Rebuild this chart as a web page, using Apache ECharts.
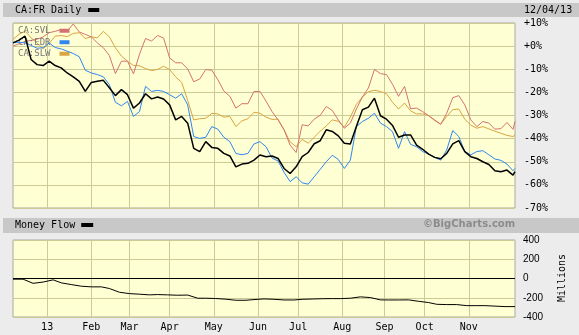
<!DOCTYPE html>
<html><head><meta charset="utf-8">
<script src="https://cdn.jsdelivr.net/npm/echarts@6/dist/echarts.min.js"></script>
<style>html,body{margin:0;padding:0;background:#ececec;}#c{width:579px;height:335px;}</style>
</head><body><div id="c"></div>
<script>
// ---- axis definition ----
const firstDay = '2012-12-05';
const lastDay = '2013-12-04';
const holidays = ['2012-12-25','2012-12-26','2013-01-01','2013-02-18','2013-03-29','2013-05-20','2013-07-01','2013-08-05','2013-09-02','2013-10-14'];
const tickMonths = ['2013-01','2013-02','2013-03','2013-04','2013-05','2013-06','2013-07','2013-08','2013-09','2013-10','2013-11'];
const tickLabels = ['13','Feb','Mar','Apr','May','Jun','Jul','Aug','Sep','Oct','Nov'];

// ---- price-panel samples (% change) ----
const dates = ['2012-12-05','2012-12-10','2012-12-13','2012-12-18','2012-12-21','2012-12-28','2013-01-03','2013-01-08','2013-01-11','2013-01-16',
 '2013-01-21','2013-01-24','2013-01-29','2013-02-01','2013-02-06','2013-02-11','2013-02-14','2013-02-20','2013-02-25','2013-02-28',
 '2013-03-05','2013-03-08','2013-03-13','2013-03-18','2013-03-21','2013-03-26','2013-04-01','2013-04-04','2013-04-09','2013-04-12',
 '2013-04-17','2013-04-22','2013-04-25','2013-04-30','2013-05-03','2013-05-08','2013-05-13','2013-05-16','2013-05-22','2013-05-27',
 '2013-05-30','2013-06-04','2013-06-07','2013-06-12','2013-06-17','2013-06-20','2013-06-25','2013-06-28','2013-07-04','2013-07-09',
 '2013-07-12','2013-07-17','2013-07-22','2013-07-25','2013-07-30','2013-08-02','2013-08-08','2013-08-13','2013-08-16','2013-08-21',
 '2013-08-26','2013-08-29','2013-09-04','2013-09-09','2013-09-12','2013-09-17','2013-09-20','2013-09-25','2013-09-30','2013-10-03',
 '2013-10-08','2013-10-11','2013-10-17','2013-10-22','2013-10-25','2013-10-30','2013-11-04','2013-11-07','2013-11-12','2013-11-15',
 '2013-11-20','2013-11-25','2013-11-28','2013-12-03','2013-12-04'];
const fr = [1.4,2.6,4.3,-5.8,-8,-8.4,-6.5,-8.4,-9.4,-11.6,
 -13.3,-15.2,-19.6,-15.7,-15.2,-14.8,-18,-21.4,-18.8,-21,
 -26.8,-24.6,-20.6,-22.8,-22,-22.9,-25.4,-31.9,-30.4,-33.3,
 -44.2,-45.6,-41.3,-43.8,-44.2,-46.4,-47.5,-52.2,-51,-50.7,
 -49.3,-47.1,-47.8,-47.5,-48.6,-52.9,-55.1,-52.2,-47.8,-46,
 -42.2,-40.9,-36.2,-36.9,-38.8,-42,-42.3,-34.8,-27.5,-26.4,
 -22.5,-30.1,-31.6,-34.3,-39.4,-38.4,-38.4,-42.8,-44.6,-46.7,
 -48.1,-48.7,-46.4,-42.3,-40.9,-45.6,-47.8,-48.6,-50,-51.2,
 -53.9,-54.3,-53.6,-55.8,-54.3];
const edr = [1.4,1.7,1.4,0.3,-0.9,-0.7,1.4,-0.6,-1.2,-2.2,
 -3.2,-4.6,-10.4,-11.6,-12.3,-13.3,-16.7,-24.3,-25.8,-23.9,
 -30.4,-28.3,-17.4,-19.6,-19.1,-19.6,-21,-22.5,-20.6,-25.4,
 -39.1,-39.9,-39.4,-34.8,-35.9,-39.4,-41.3,-46.4,-47,-46.4,
 -42.3,-41.3,-43.5,-48.4,-49.7,-54.6,-58.6,-56.5,-59.1,-59.7,
 -56.5,-53.3,-50,-47.2,-49,-52.9,-49.3,-34.8,-32.6,-31.2,
 -29,-33.3,-34.8,-37,-44.2,-37,-42.5,-43.5,-45.6,-46.7,
 -48.1,-49.3,-44.9,-36.5,-39.1,-45.6,-47,-45.6,-45.2,-47,
 -48.8,-49.4,-51,-53.9,-52.9];
const svl = [0,1,2,2.5,3,4,5.8,6.4,7.2,6.5,
 9.6,6.1,5.1,4,1.4,-0.7,-4.1,-11.9,-6.5,-6.5,
 -12,-3.5,3.3,2.2,4.6,3.5,-5.1,-7.2,-7.2,-9.9,
 -15.4,-14.2,-10.1,-10.4,-14.5,-19.4,-21.7,-26.8,-24.9,-24.9,
 -19.6,-19.6,-23.8,-28.3,-31.9,-36.2,-42.8,-46,-34,-34.5,
 -31.6,-29.9,-26.1,-27.8,-31.9,-35.5,-33.3,-27.2,-22,-18.1,
 -10.1,-11.9,-12.3,-16.5,-21.7,-17.4,-27.1,-26.8,-28.3,-30.1,
 -31.9,-33.8,-29,-22.3,-21.4,-25.4,-31.9,-34.8,-32.6,-33.3,
 -35.9,-35.7,-33,-36,-32.6];
const slw = [2.9,5.1,6.5,3.6,1.4,-1.2,1.2,4.3,4.6,4.1,
 5.5,5.8,3.3,4,3.6,6.4,4,-0.7,-4.3,-6.5,
 -8.4,-8.5,-9.7,-10.6,-10.1,-8.7,-10.1,-13.3,-15.7,-23.5,
 -31.9,-31.4,-31.2,-29.1,-29.3,-30.7,-30.4,-34.8,-32.3,-31.4,
 -28.6,-29,-30.7,-31.7,-31.6,-36.2,-41.4,-43.5,-40.3,-42,
 -39.4,-36.8,-34.5,-31.9,-32.5,-35,-30.7,-25.2,-22,-19.7,
 -19.1,-19.6,-20.6,-24.3,-27.2,-24.6,-28,-29.3,-29.3,-30.1,
 -32.2,-33.8,-30.4,-27.5,-27.2,-31.6,-34.2,-35.5,-34.8,-35.8,
 -36.8,-37.7,-38.6,-39.1,-38.4];

// ---- money-flow samples (millions) ----
const mfDates = ['2012-12-05','2012-12-12','2012-12-19','2012-12-28','2013-01-07','2013-01-11','2013-01-18','2013-01-25',
 '2013-02-01','2013-02-08','2013-02-14','2013-02-22','2013-03-01','2013-03-08','2013-03-15','2013-03-21','2013-03-28',
 '2013-04-05','2013-04-12','2013-04-19','2013-04-25','2013-05-02','2013-05-09','2013-05-16','2013-05-24','2013-05-30',
 '2013-06-06','2013-06-13','2013-06-20','2013-06-27','2013-07-04','2013-07-11','2013-07-18','2013-07-25','2013-07-31',
 '2013-08-08','2013-08-15','2013-08-22','2013-08-29','2013-09-05','2013-09-12','2013-09-19','2013-09-26','2013-10-03',
 '2013-10-09','2013-10-17','2013-10-24','2013-10-31','2013-11-07','2013-11-13','2013-11-20','2013-11-27','2013-12-02','2013-12-04'];
const moneyFlow = [-7,-7,-50,-37,-14,-45,-63,-80,-87,-87,-104,-143,-157,-163,-170,-167,-170,-174,-172,-205,-205,-208,-215,-226,-226,-219,
 -212,-216,-223,-223,-216,-213,-210,-209,-209,-205,-191,-198,-222,-223,-223,-222,-237,-250,-268,-271,-271,-282,-282,-282,-287,-292,-292,-292];

// ---- category axis of trading days ----
function tradingDays(){
  const out=[]; let t=Date.parse(firstDay+'T00:00:00Z'); const end=Date.parse(lastDay+'T00:00:00Z');
  while(t<=end){ const d=new Date(t); const w=d.getUTCDay(); const s=d.toISOString().slice(0,10);
    if(w!==0&&w!==6&&holidays.indexOf(s)<0) out.push(s); t+=86400000; }
  return out;
}
const days = tradingDays();
const isTick = function(i){ if(i===0) return false; const m=days[i].slice(0,7); return m!==days[i-1].slice(0,7) && tickMonths.indexOf(m)>=0; };
const pair = (ds, arr) => ds.map((d,i)=>[d,arr[i]]);

const mono = 'DejaVu Sans Mono';
const gridCol = '#cbcb98';
const xBase = (gi, showLabel) => ({
  type:'category', gridIndex:gi, data:days, boundaryGap:false,
  axisLine:{show:false}, axisTick:{show:false},
  axisLabel:{show:showLabel, interval:isTick, fontFamily:mono, fontSize:10, color:'#000', margin:5,
    formatter:v=>tickLabels[tickMonths.indexOf(v.slice(0,7))]},
  splitLine:{show:true, interval:isTick, lineStyle:{color:gridCol, width:1}}
});

const chart = echarts.init(document.getElementById('c'), null, {renderer:'canvas'});
chart.setOption({
  animation:false,
  backgroundColor:'#ececec',
  grid:[
    {left:13, top:23, width:502, height:185, show:true, backgroundColor:'#ffffd4', borderColor:'#a8a8a0', borderWidth:1},
    {left:13, top:240, width:502, height:77, show:true, backgroundColor:'#ffffd4', borderColor:'#a8a8a0', borderWidth:1}
  ],
  xAxis:[xBase(0,false), xBase(1,true)],
  yAxis:[
    {type:'value', gridIndex:0, position:'right', min:-70, max:10, interval:10,
     axisLine:{show:false}, axisTick:{show:false},
     axisLabel:{fontFamily:mono, fontSize:10, color:'#000', margin:9, formatter:v=>(v>=0?'+':'')+v+'%'},
     splitLine:{lineStyle:{color:gridCol}}},
    {type:'value', gridIndex:1, position:'right', min:-400, max:400, interval:200,
     axisLine:{show:false}, axisTick:{show:false},
     axisLabel:{fontFamily:'Liberation Sans', fontSize:10, color:'#000', margin:8},
     splitLine:{lineStyle:{color:gridCol}}}
  ],
  legend:[
    {data:['CA:FR'], left:15, top:5, padding:0, align:'right', icon:'rect', itemWidth:11, itemHeight:4,
     formatter:n=>n+' Daily', textStyle:{fontFamily:mono, fontSize:10, color:'#000', padding:[0,2,0,0]}, selectedMode:false},
    {data:['CA:SVL','CA:EDR','CA:SLW'], orient:'vertical', left:18, top:25, padding:0, itemGap:0, align:'right', icon:'rect',
     itemWidth:10, itemHeight:4, textStyle:{fontFamily:mono, fontSize:9, color:'#777', lineHeight:11.5, padding:[0,4,0,0]}, selectedMode:false},
    {data:['Money Flow'], left:15, top:220, padding:0, align:'right', icon:'rect', itemWidth:12, itemHeight:4,
     textStyle:{fontFamily:mono, fontSize:10, color:'#000', padding:[0,1,0,0]}, selectedMode:false}
  ],
  graphic:[
    {type:'rect', z:-10, shape:{x:3,y:3,width:576,height:14}, style:{fill:'#c8c8c8'}},
    {type:'rect', z:-10, shape:{x:3,y:218,width:576,height:15}, style:{fill:'#c8c8c8'}},
    {type:'text', z:5, left:524, top:5, style:{text:'12/04/13', font:'10px "DejaVu Sans Mono"', fill:'#000'}},
    {type:'text', z:5, left:423, top:219, style:{text:'\u00A9BigCharts.com', font:'bold 10px "DejaVu Sans"', fill:'#8c8c8c'}},
    {type:'text', z:5, x:562, y:278, rotation:Math.PI/2, style:{text:'Millions', font:'10px "DejaVu Sans Mono"', fill:'#000', align:'center', verticalAlign:'middle'}}
  ],
  series:[
    {name:'CA:SLW', type:'line', xAxisIndex:0, yAxisIndex:0, data:pair(dates,slw), symbol:'none', lineStyle:{color:'#d9a441', width:1}, itemStyle:{color:'#d9a441'}, z:2},
    {name:'CA:SVL', type:'line', xAxisIndex:0, yAxisIndex:0, data:pair(dates,svl), symbol:'none', lineStyle:{color:'#d47272', width:1}, itemStyle:{color:'#d47272'}, z:3},
    {name:'CA:EDR', type:'line', xAxisIndex:0, yAxisIndex:0, data:pair(dates,edr), symbol:'none', lineStyle:{color:'#2f86f0', width:1}, itemStyle:{color:'#2f86f0'}, z:4},
    {name:'CA:FR', type:'line', xAxisIndex:0, yAxisIndex:0, data:pair(dates,fr), symbol:'none', lineStyle:{color:'#000', width:1.5}, itemStyle:{color:'#000'}, z:5},
    {name:'Money Flow', type:'line', xAxisIndex:1, yAxisIndex:1, data:pair(mfDates,moneyFlow), symbol:'none', lineStyle:{color:'#000', width:1}, itemStyle:{color:'#000'}, z:5,
     markLine:{silent:true, symbol:'none', label:{show:false}, lineStyle:{color:'#000', width:1, type:'solid'}, data:[{yAxis:0}]}}
  ]
});
</script></body></html>
